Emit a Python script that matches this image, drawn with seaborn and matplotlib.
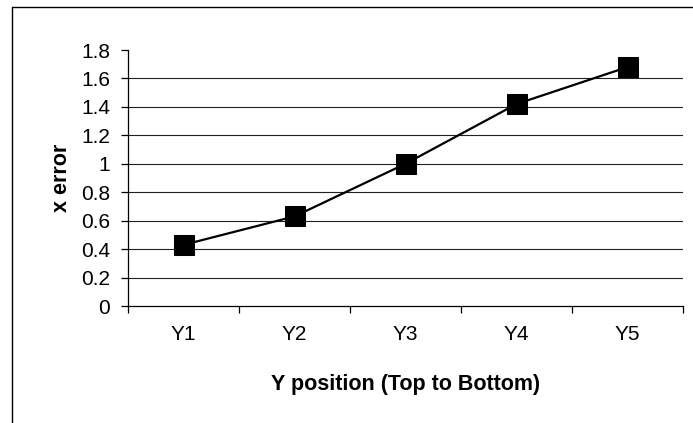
import matplotlib
matplotlib.use("Agg")
import matplotlib.pyplot as plt
from matplotlib.lines import Line2D
import seaborn as sns
import pandas as pd

positions = ["Y1", "Y2", "Y3", "Y4", "Y5"]
x_error = [0.43, 0.63, 1.0, 1.42, 1.68]
y_ticks = [0, 0.2, 0.4, 0.6, 0.8, 1.0, 1.2, 1.4, 1.6, 1.8]
y_tick_labels = ["0", "0.2", "0.4", "0.6", "0.8", "1", "1.2", "1.4", "1.6", "1.8"]

sns.set_theme(style="white")
plt.rcParams["font.family"] = ["Liberation Sans", "DejaVu Sans"]

df = pd.DataFrame({"position": positions, "x_error": x_error})

fig = plt.figure(figsize=(6.93, 4.23), dpi=100)
ax = fig.add_axes([128 / 693, 1 - 306 / 423, (683 - 128) / 693, (306 - 50) / 423])

# horizontal gridlines behind the series
for v in y_ticks[1:-1]:
    ax.axhline(v, color="#222222", lw=0.8, zorder=0)

sns.lineplot(data=df, x="position", y="x_error", ax=ax, color="black",
             lw=1.6, marker="s", markersize=14, markeredgecolor="black",
             markerfacecolor="black", sort=False, zorder=3)

ax.set_xlim(-0.5, len(positions) - 0.5)
ax.set_ylim(0, 1.8)
ax.set_yticks(y_ticks)
ax.set_yticklabels(y_tick_labels)
ax.set_xticks(range(len(positions)))
ax.set_xticklabels(positions)
ax.set_xticks([i - 0.5 for i in range(len(positions) + 1)], minor=True)
ax.tick_params(axis="x", which="major", length=0, pad=14, labelsize=15, colors="black")
ax.tick_params(axis="x", which="minor", length=5, width=0.9, direction="out", color="black", bottom=True)
ax.tick_params(axis="y", which="major", length=5, width=0.9, direction="out", pad=8,
               labelsize=15, colors="black", left=True)

for side in ["top", "right"]:
    ax.spines[side].set_visible(False)
for side in ["left", "bottom"]:
    ax.spines[side].set_color("black")
    ax.spines[side].set_linewidth(0.9)

ax.set_xlabel("Y position (Top to Bottom)", fontsize=15.5, fontweight="bold", labelpad=21, color="black")
ax.set_ylabel("x error", fontsize=15.5, fontweight="bold", labelpad=6, color="black")

# outer chart frame (left and top edges)
fig.add_artist(Line2D([12 / 693, 12 / 693], [0, 1 - 7 / 423], transform=fig.transFigure,
                      color="black", lw=1.0))
fig.add_artist(Line2D([12 / 693, 1], [1 - 7 / 423, 1 - 7 / 423], transform=fig.transFigure,
                      color="black", lw=1.0))

fig.savefig("out.png", dpi=100, facecolor="white")
